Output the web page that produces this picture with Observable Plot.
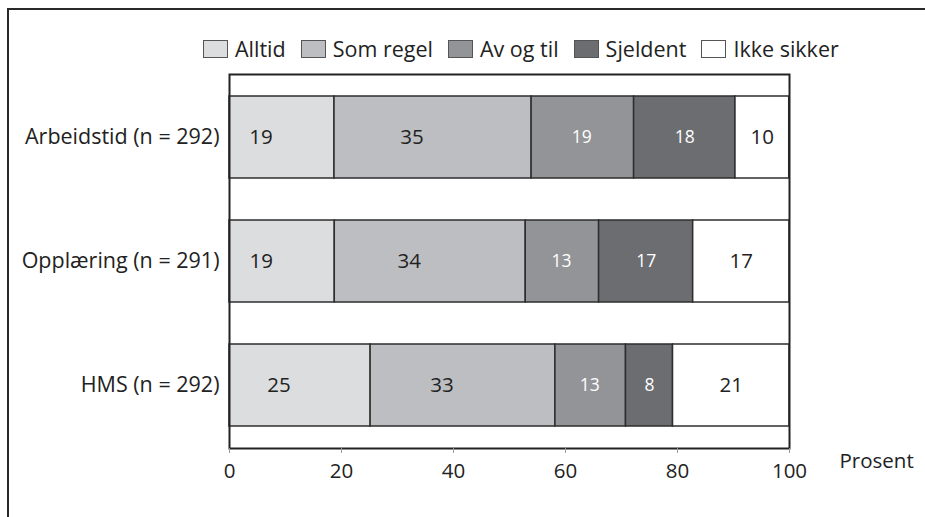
<!DOCTYPE html>
<html>
<head>
<meta charset="utf-8">
<script src="https://cdn.jsdelivr.net/npm/d3@7"></script>
<script src="https://cdn.jsdelivr.net/npm/@observablehq/plot@0.6"></script>
<style>
  html, body { margin: 0; padding: 0; background: #fff; overflow: hidden; width: 925px; height: 517px; }
  body { position: relative; font-family: "Open Sans", "Noto Sans", sans-serif; color: #222; }
  #outer { position: absolute; left: 7px; top: 8px; width: 1000px; height: 1000px; border: 2px solid #2a2a2a; box-sizing: border-box; }
  #legend { position: absolute; top: 34px; left: 203px; display: flex; align-items: center; font-size: 21.5px; white-space: nowrap; }
  .item { display: flex; align-items: center; margin-right: 15px; }
  .sw { width: 25px; height: 18px; border: 1px solid #555; box-sizing: border-box; margin-right: 7px; }
  #chart { position: absolute; left: 0; top: 0; }
</style>
</head>
<body>
<div id="outer"></div>
<div id="legend"></div>
<div id="chart"></div>
<script>
// Categories (rows), top to bottom
const categories = ["Arbeidstid (n = 292)", "Opplæring (n = 291)", "HMS (n = 292)"];
// Response series, left to right
const series = ["Alltid", "Som regel", "Av og til", "Sjeldent", "Ikke sikker"];
const colors = ["#dcdddf", "#bdbec1", "#939497", "#6c6d71", "#ffffff"];
// Segment widths (percent) estimated from the bars
const arbeidstid = [18.75, 35.2, 18.3, 18.1, 9.6];
const opplaering = [18.8, 34.1, 13.1, 16.8, 17.2];
const hms = [25.2, 33.0, 12.6, 8.4, 20.8];
// Printed labels
const arbeidstidLabels = [19, 35, 19, 18, 10];
const opplaeringLabels = [19, 34, 13, 17, 17];
const hmsLabels = [25, 33, 13, 8, 21];
const xTicks = [0, 20, 40, 60, 80, 100];
const xLabel = "Prosent";

const rows = [
  [categories[0], arbeidstid, arbeidstidLabels],
  [categories[1], opplaering, opplaeringLabels],
  [categories[2], hms, hmsLabels]
];
const table = [];
for (const [cat, vals, labs] of rows) {
  const ends = d3.cumsum(vals);
  vals.forEach((v, i) => {
    table.push({cat, series: series[i], x1: ends[i] - v, x2: ends[i], label: labs[i], idx: i});
  });
}

// Label styles per series
const labelDx = [-21, -21, -1, 0, 0];
const labelFill = ["#222", "#222", "#fff", "#fff", "#222"];
const labelSize = [20.5, 20.5, 17.5, 17.5, 20.5];

// Legend
const legend = document.getElementById("legend");
series.forEach((s, i) => {
  const item = document.createElement("div");
  item.className = "item";
  const sw = document.createElement("div");
  sw.className = "sw";
  sw.style.background = colors[i];
  const t = document.createElement("span");
  t.textContent = s;
  item.append(sw, t);
  legend.append(item);
});

const textMarks = series.map((s, i) =>
  Plot.text(table.filter(d => d.series === s), {
    x: d => (d.x1 + d.x2) / 2,
    y: "cat",
    text: d => String(d.label),
    fill: labelFill[i],
    fontSize: labelSize[i],
    dx: labelDx[i]
  })
);

const chart = Plot.plot({
  width: 925,
  height: 517,
  marginLeft: 229,
  marginRight: 136,
  marginTop: 74,
  marginBottom: 69,
  style: {fontFamily: "'Open Sans', 'Noto Sans', sans-serif", fontSize: "20px", color: "#222", background: "transparent"},
  x: {domain: [0, 100]},
  y: {domain: categories, paddingInner: 0.335, paddingOuter: 0.17},
  color: {domain: series, range: colors},
  marks: [
    Plot.barX(table, {x1: "x1", x2: "x2", y: "cat", fill: "series", stroke: "#2e2e2e", strokeWidth: 1.5}),
    ...textMarks,
    Plot.frame({stroke: "#222", strokeWidth: 2}),
    Plot.axisX({ticks: xTicks, tickSize: 5, tickPadding: 10, stroke: "#999", fill: "#222", fontSize: 20.5, label: null}),
    Plot.axisY({tickSize: 0, tickPadding: 10, fill: "#222", fontSize: 21.5, label: null}),
    Plot.text([xLabel], {frameAnchor: "bottom-right", text: d => d, textAnchor: "start", dx: 50, dy: 19, fontSize: 20.5, fill: "#222"})
  ]
});
document.getElementById("chart").append(chart);
</script>
</body>
</html>
